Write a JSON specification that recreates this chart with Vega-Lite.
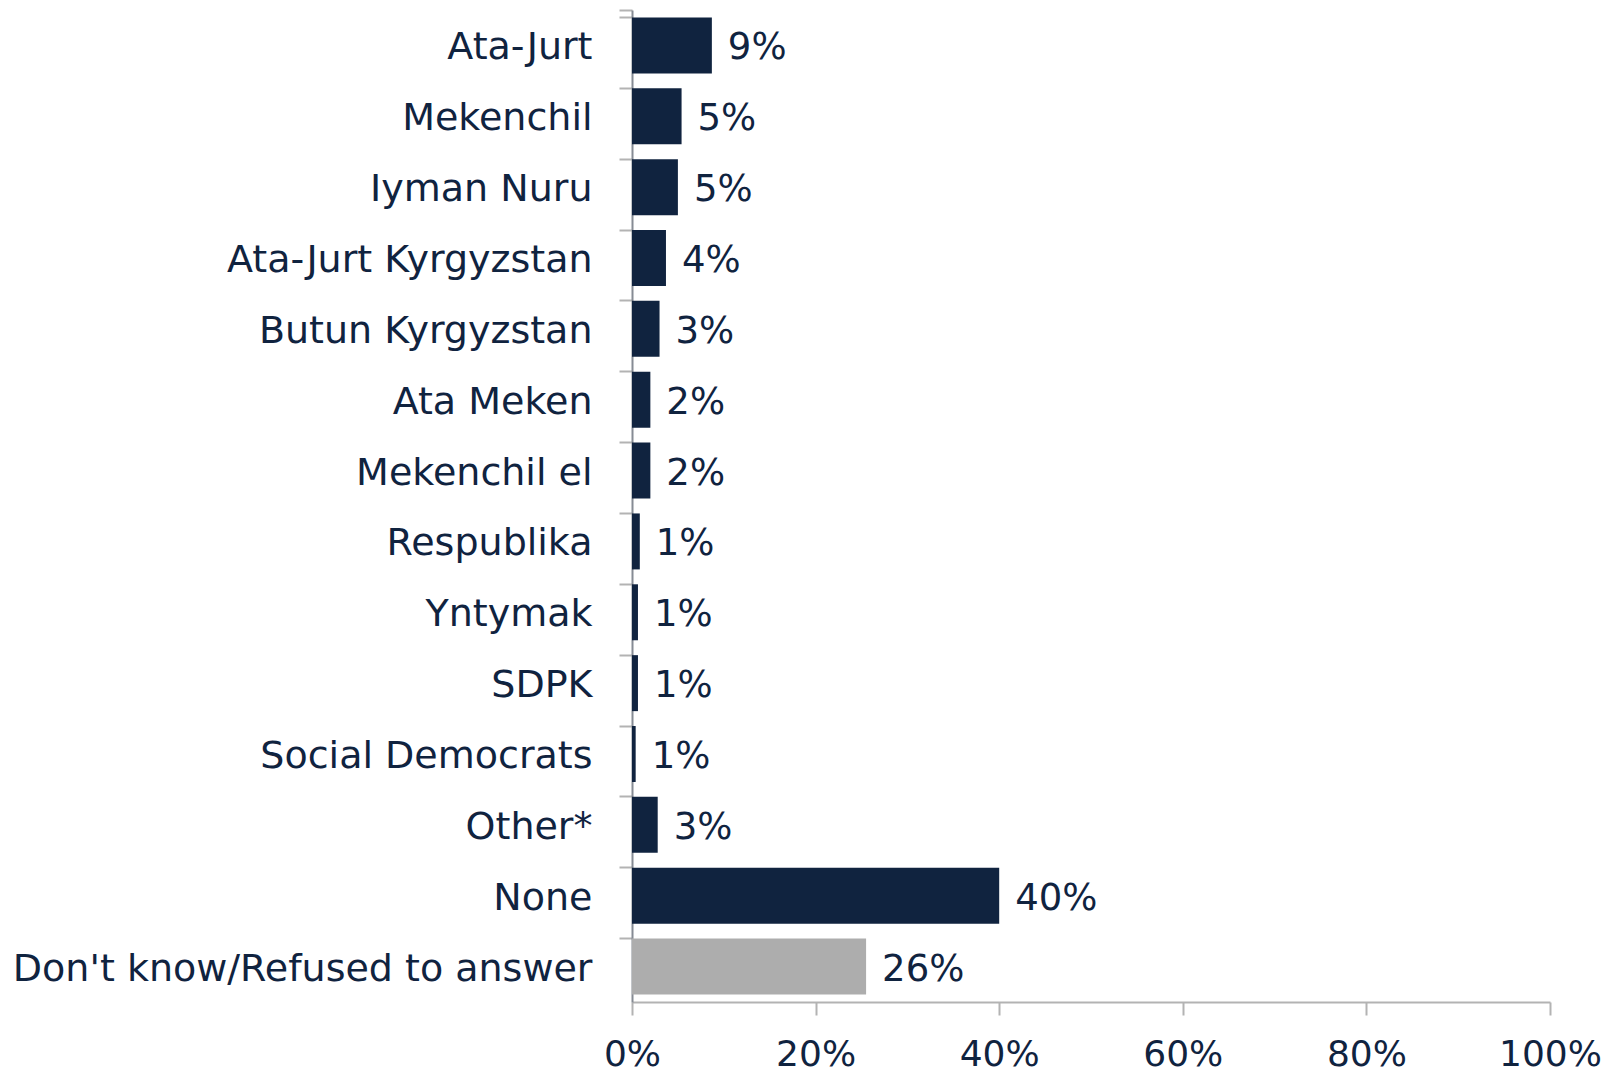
{
  "$schema": "https://vega.github.io/schema/vega-lite/v6.json",
  "width": 918,
  "height": 992,
  "autosize": {"type": "none"},
  "padding": {"left": 632, "top": 10, "right": 68, "bottom": 72},
  "background": "white",
  "config": {
    "view": {"stroke": null},
    "font": "DejaVu Sans"
  },
  "data": {
    "values": [
      {"party": "Ata-Jurt", "value": 8.7, "label": "9%", "group": "party"},
      {"party": "Mekenchil", "value": 5.4, "label": "5%", "group": "party"},
      {"party": "Iyman Nuru", "value": 5.0, "label": "5%", "group": "party"},
      {"party": "Ata-Jurt Kyrgyzstan", "value": 3.7, "label": "4%", "group": "party"},
      {"party": "Butun Kyrgyzstan", "value": 3.0, "label": "3%", "group": "party"},
      {"party": "Ata Meken", "value": 2.0, "label": "2%", "group": "party"},
      {"party": "Mekenchil el", "value": 2.0, "label": "2%", "group": "party"},
      {"party": "Respublika", "value": 0.85, "label": "1%", "group": "party"},
      {"party": "Yntymak", "value": 0.65, "label": "1%", "group": "party"},
      {"party": "SDPK", "value": 0.65, "label": "1%", "group": "party"},
      {"party": "Social Democrats", "value": 0.4, "label": "1%", "group": "party"},
      {"party": "Other*", "value": 2.8, "label": "3%", "group": "party"},
      {"party": "None", "value": 40.0, "label": "40%", "group": "party"},
      {"party": "Don't know/Refused to answer", "value": 25.5, "label": "26%", "group": "dk"}
    ]
  },
  "encoding": {
    "y": {
      "field": "party",
      "type": "nominal",
      "sort": null,
      "scale": {"paddingInner": 0.21, "paddingOuter": 0.105},
      "axis": {
        "title": null,
        "bandPosition": 0,
        "tickExtra": true,
        "tickSize": 13,
        "tickColor": "#b3b3b3",
        "tickWidth": 2,
        "domainColor": "#868b94",
        "domainWidth": 2,
        "labelPadding": 27,
        "labelOffset": 3,
        "labelFontSize": 38,
        "labelColor": "#10233f",
        "labelFont": "DejaVu Sans",
        "labelLimit": 0
      }
    },
    "x": {
      "field": "value",
      "type": "quantitative",
      "scale": {"domain": [0, 100], "nice": false},
      "axis": {
        "title": null,
        "values": [0, 20, 40, 60, 80, 100],
        "labelExpr": "datum.value + '%'",
        "grid": false,
        "tickSize": 13,
        "tickColor": "#b3b3b3",
        "tickWidth": 2,
        "domainColor": "#b3b3b3",
        "domainWidth": 2,
        "labelPadding": 22,
        "labelFontSize": 36,
        "labelColor": "#10233f",
        "labelFont": "DejaVu Sans",
        "labelFlush": false
      }
    }
  },
  "layer": [
    {
      "mark": {"type": "bar"},
      "encoding": {
        "color": {
          "field": "group",
          "type": "nominal",
          "scale": {"domain": ["party", "dk"], "range": ["#10233f", "#adadad"]},
          "legend": null
        }
      }
    },
    {
      "mark": {
        "type": "text",
        "align": "left",
        "baseline": "middle",
        "dx": 16,
        "dy": 3,
        "fontSize": 37,
        "font": "DejaVu Sans",
        "color": "#10233f"
      },
      "encoding": {
        "text": {"field": "label", "type": "nominal"}
      }
    }
  ]
}
